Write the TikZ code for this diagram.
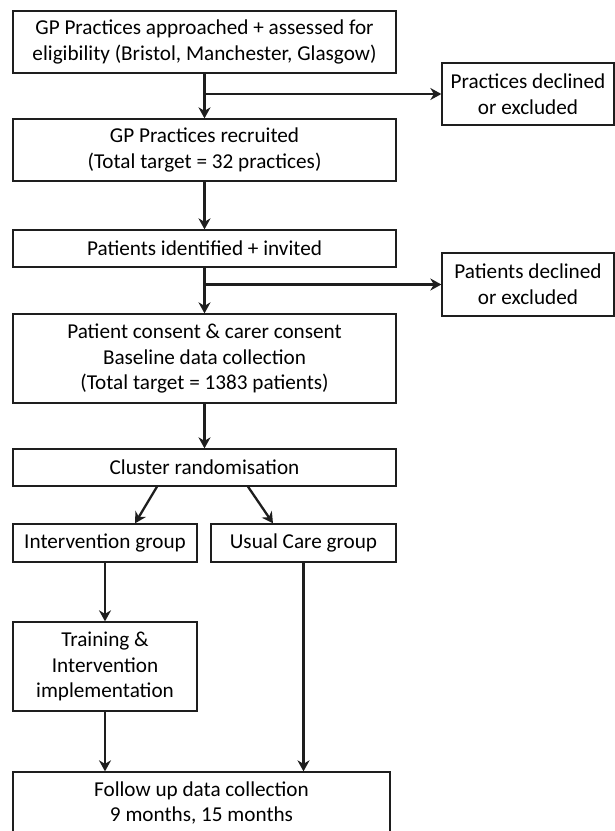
\documentclass[tikz,border=0pt]{standalone}
\usepackage{fontspec}
\setmainfont{Carlito}
\usetikzlibrary{arrows.meta}
\definecolor{edge}{HTML}{1E1E1E}
\begin{document}
\begin{tikzpicture}[x=1pt,y=-1pt,
  box/.style={draw=edge, line width=1.3pt, align=center, inner sep=0pt,
    font=\fontsize{21.2}{25.9}\selectfont, text=black},
  arr/.style={draw=edge, line width=2.3pt,
    -{Stealth[length=11pt,width=12pt,inset=3.5pt]}},
  ln/.style={draw=edge, line width=2.3pt}]
\useasboundingbox[fill=white] (0,0) rectangle (615,831);

\node[box, minimum width=383pt, minimum height=62pt] (b1) at (204.5,42)
  {GP Practices approached + assessed for\\eligibility (Bristol, Manchester, Glasgow)};
\node[box, minimum width=172pt, minimum height=62pt] (d1) at (528,94)
  {Practices declined\\or excluded};
\node[box, minimum width=383pt, minimum height=62pt] (b2) at (204.5,150)
  {GP Practices recruited\\(Total target = 32 practices)};
\node[box, minimum width=383pt, minimum height=37pt] (b3) at (204.5,248.5)
  {Patients identified + invited};
\node[box, minimum width=172pt, minimum height=63pt] (d2) at (528,284.5)
  {Patients declined\\or excluded};
\node[box, minimum width=383pt, minimum height=89pt] (b4) at (204.5,358.5)
  {Patient consent \& carer consent\\Baseline data collection\\(Total target = 1383 patients)};
\node[box, minimum width=383pt, minimum height=37pt] (cl) at (204.5,467.5)
  {Cluster randomisation};
\node[box, minimum width=184pt, minimum height=38pt] (iv) at (105,543)
  {Intervention group};
\node[box, minimum width=185pt, minimum height=38pt] (uc) at (303.5,543)
  {Usual Care group};
\node[box, minimum width=184pt, minimum height=89pt] (tr) at (105,666.5)
  {Training \&\\Intervention\\implementation};
\node[box, minimum width=377pt, minimum height=62pt] (fu) at (201.5,803)
  {Follow up data collection\\9 months, 15 months};

\draw[arr] (b1) -- (b2);
\draw[arr] (b1.south |- d1.west) -- (d1.west);
\draw[arr] (b2) -- (b3);
\draw[arr] (b3) -- (b4);
\draw[arr] (b3.south |- d2.west) -- (d2.west);
\draw[arr] (b4) -- (cl);
\draw[arr] ([xshift=-47.5pt]cl.south) -- ([xshift=30pt]iv.north);
\draw[arr] ([xshift=43.5pt]cl.south) -- ([xshift=-30.5pt]uc.north);
\draw[arr] (iv) -- (tr);
\draw[arr] (tr.south) -- (tr.south |- fu.north);
\draw[arr] (uc.south) -- (uc.south |- fu.north);
\end{tikzpicture}
\end{document}
